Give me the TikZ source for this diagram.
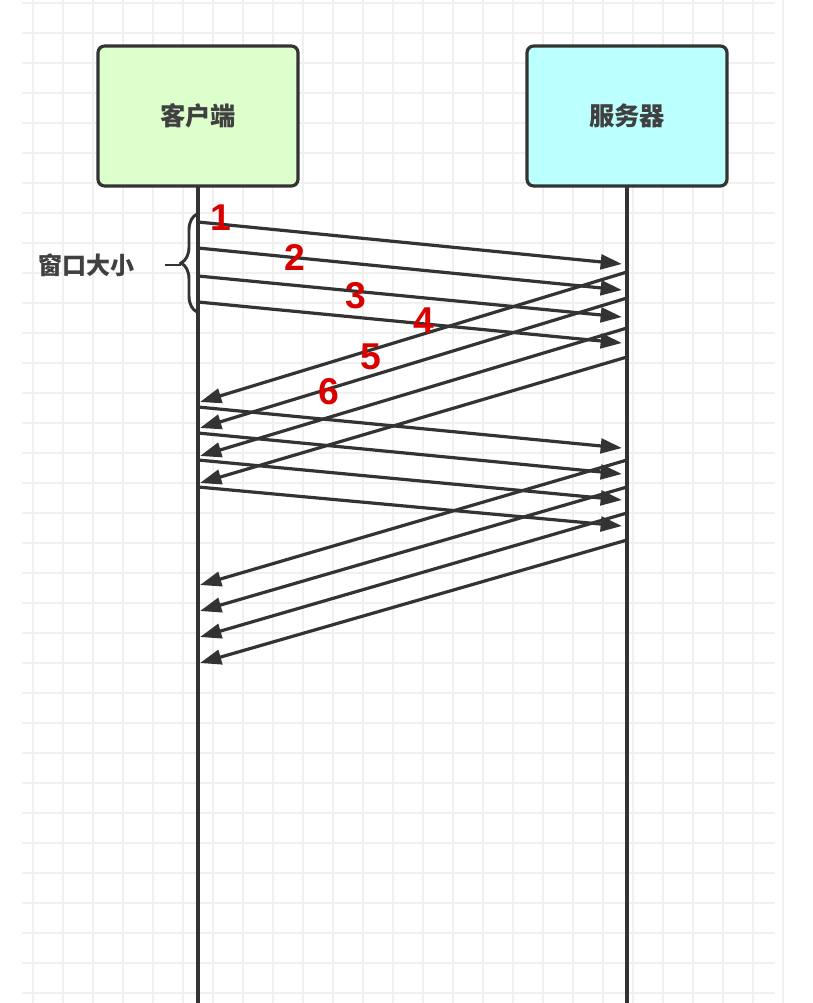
\documentclass[tikz,border=0pt]{standalone}
\usepackage{fontspec}
\newfontfamily\cjk{Noto Sans CJK SC}
\newfontfamily\numf{Liberation Sans}
\usetikzlibrary{arrows.meta,decorations.pathreplacing}
\begin{document}
\begin{tikzpicture}[x=0.75pt,y=-0.75pt,
  msg/.style={draw=black!80,line width=2.4pt,-{Triangle[length=16pt,width=11pt]}},
  box/.style={draw=black!80,line width=2.4pt,rounded corners=5pt,minimum width=150pt,minimum height=105pt,font=\cjk\bfseries\fontsize{19}{22}\selectfont,text=black!75},
  num/.style={text=red!85!black,font=\numf\bfseries\fontsize{28}{30}\selectfont}]
\useasboundingbox (0,0) rectangle (813,1003);
\fill[white] (0,0) rectangle (813,1003);
\foreach \i in {0,...,25} {\draw[black!6,line width=1pt] (33+30*\i,0) -- (33+30*\i,1003);}
\foreach \i in {-7,...,26} {\draw[black!6,line width=1pt] (22,213+30*\i) -- (775,213+30*\i);}
\draw[black!80,line width=2.4pt] (198,186) -- (198,1003);
\draw[black!80,line width=2.4pt] (627,186) -- (627,1003);
\node[box,fill={rgb,255:red,221;green,255;blue,204}] (c) at (198,116) {客户端};
\node[box,fill={rgb,255:red,187;green,255;blue,255}] (s) at (627,116) {服务器};
\foreach \n/\a/\b in {a/222/264,b/248/290,c/276/317,d/302/343}{
  \coordinate (L\n) at (198,\a); \coordinate (R\n) at (622,\b); \draw[msg] (L\n) -- (R\n);}
\foreach \n/\a/\b in {e/272/402,f/298/428,g/328/456,h/357/483}{
  \coordinate (R\n) at (627,\a); \coordinate (L\n) at (200,\b); \draw[msg] (R\n) -- (L\n);}
\foreach \n/\a/\b in {i/407/448,j/433/474,k/460/500,l/487/526}{
  \coordinate (L\n) at (198,\a); \coordinate (R\n) at (622,\b); \draw[msg] (L\n) -- (R\n);}
\foreach \n/\a/\b in {m/460/585,n/487/611,o/513/637,p/540/663}{
  \coordinate (R\n) at (627,\a); \coordinate (L\n) at (200,\b); \draw[msg] (R\n) -- (L\n);}
\coordinate (bt) at (197,214); \coordinate (bb) at (197,312);
\draw[black!80,line width=2.2pt,decorate,decoration={brace,amplitude=12pt}] (bb) -- (bt);
\coordinate (tk1) at (181,265); \coordinate (tk2) at (165,265);
\draw[black!80,line width=2.2pt] (tk1) -- (tk2);
\node[font=\cjk\bfseries\fontsize{18}{20}\selectfont,text=black!75] (w) at (86,265) {窗口大小};
\node[num] (n1) at (221,218) {1};
\node[num] (n2) at (295,257) {2};
\node[num] (n3) at (356,296) {3};
\node[num] (n4) at (424,321) {4};
\node[num] (n5) at (371,357) {5};
\node[num] (n6) at (329,392) {6};
\end{tikzpicture}
\end{document}
